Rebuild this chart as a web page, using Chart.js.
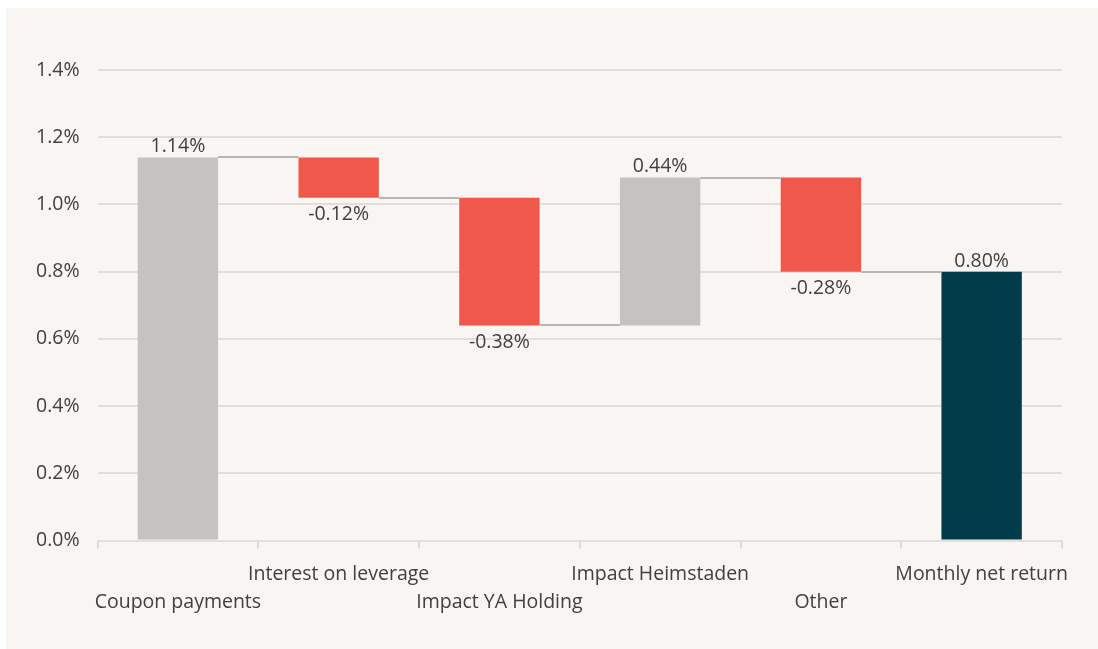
<!DOCTYPE html>
<html>
<head>
<meta charset="utf-8">
<script src="https://cdn.jsdelivr.net/npm/chart.js@4/dist/chart.umd.min.js"></script>
<style>
  html, body { margin: 0; padding: 0; background: #ffffff; }
  #panel { position: absolute; left: 6px; top: 8px; width: 1092px; height: 641px; background: #f9f5f2; }
  #wrap { position: absolute; left: 0; top: 0; width: 1092px; height: 641px; }
</style>
</head>
<body>
<div id="panel"><div id="wrap"><canvas id="c"></canvas></div></div>
<script>
const categories = ['Coupon payments', 'Interest on leverage', 'Impact YA Holding', 'Impact Heimstaden', 'Other', 'Monthly net return'];
const changes = [1.14, -0.12, -0.38, 0.44, -0.28, 0.80];
const isTotal = [false, false, false, false, false, true];
const yTicks = [0, 0.2, 0.4, 0.6, 0.8, 1.0, 1.2, 1.4];

const COLOR_POS = '#c5c2c1';
const COLOR_NEG = '#f0584b';
const COLOR_TOTAL = '#023c4a';

// Build floating ranges from changes
const ranges = [];
const colors = [];
let running = 0;
changes.forEach((v, i) => {
  if (isTotal[i]) {
    ranges.push([0, v]);
    colors.push(COLOR_TOTAL);
    running = v;
  } else {
    const start = running;
    const end = +(running + v).toFixed(4);
    ranges.push([start, end]);
    colors.push(v >= 0 ? COLOR_POS : COLOR_NEG);
    running = end;
  }
});

const labels = categories.map((c, i) => i % 2 === 0 ? ['', c] : [c, '']);
const FONT = "'Open Sans', 'Noto Sans', sans-serif";
const FS = 19.5;

const waterfallPlugin = {
  id: 'waterfall',
  afterDatasetsDraw(chart) {
    const ctx = chart.ctx;
    const meta = chart.getDatasetMeta(0);
    const y = chart.scales.y;
    ctx.save();
    // connectors
    ctx.strokeStyle = '#b8b5b3';
    ctx.lineWidth = 2;
    for (let i = 0; i < meta.data.length - 1; i++) {
      const a = meta.data[i], b = meta.data[i + 1];
      const level = ranges[i][1];
      const py = Math.round(y.getPixelForValue(level));
      ctx.beginPath();
      ctx.moveTo(a.x + a.width / 2, py);
      ctx.lineTo(b.x - b.width / 2, py);
      ctx.stroke();
    }
    // value labels
    ctx.fillStyle = '#404040';
    ctx.font = FS + 'px ' + FONT;
    ctx.textAlign = 'center';
    meta.data.forEach((bar, i) => {
      const v = changes[i];
      const txt = v.toFixed(2) + '%';
      const top = Math.min(y.getPixelForValue(ranges[i][0]), y.getPixelForValue(ranges[i][1]));
      const bottom = Math.max(y.getPixelForValue(ranges[i][0]), y.getPixelForValue(ranges[i][1]));
      if (v >= 0) {
        ctx.textBaseline = 'bottom';
        ctx.fillText(txt, bar.x, top - 1);
      } else {
        ctx.textBaseline = 'top';
        ctx.fillText(txt, bar.x, bottom + 7);
      }
    });
    ctx.restore();
  }
};

new Chart(document.getElementById('c'), {
  type: 'bar',
  data: {
    labels: labels,
    datasets: [{
      data: ranges,
      backgroundColor: colors,
      borderWidth: 0,
      barPercentage: 1.0,
      categoryPercentage: 0.5
    }]
  },
  options: {
    responsive: true,
    maintainAspectRatio: false,
    animation: false,
    layout: { padding: { left: 12, right: 36, top: 62, bottom: 21 } },
    plugins: { legend: { display: false }, tooltip: { enabled: false } },
    scales: {
      x: {
        offset: true,
        grid: { display: true, drawOnChartArea: false, drawTicks: true, tickLength: 8, color: '#dedad8', lineWidth: 2, offset: true },
        border: { display: true, color: '#e2dedc', width: 2 },
        ticks: {
          autoSkip: false, maxRotation: 0, minRotation: 0,
          color: '#404040', font: { family: FONT, size: FS, lineHeight: 1.42 }, padding: 12
        }
      },
      y: {
        min: 0, max: 1.4,
        afterBuildTicks(scale) { scale.ticks = yTicks.map(v => ({ value: v })); },
        grid: { color: '#e2dedc', lineWidth: 2, drawTicks: false },
        border: { display: false },
        ticks: {
          color: '#404040', font: { family: FONT, size: FS }, padding: 18,
          callback: v => v.toFixed(1) + '%'
        }
      }
    }
  },
  plugins: [waterfallPlugin]
});
</script>
</body>
</html>
